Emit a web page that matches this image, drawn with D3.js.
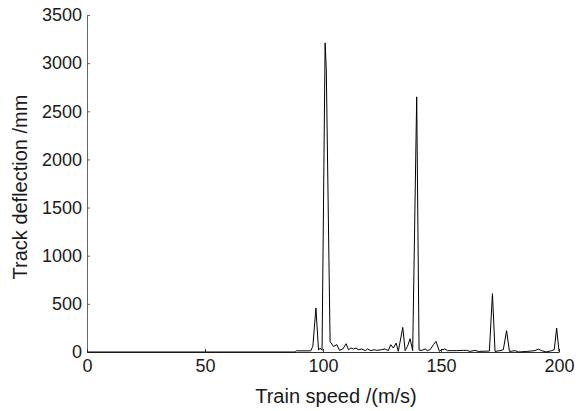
<html>
<head>
<title>Track deflection</title>
<script src="https://cdn.jsdelivr.net/npm/d3@7"></script>
<style>
  body { margin: 0; background: #fff; }
  text { font-family: "Liberation Sans", Arial, sans-serif; fill: #1a1a1a; }
</style>
</head>
<body>
<div id="chart"></div>
<script>
(function(){
  "use strict";

  // vertices of the trace
  var speed = [0, 88.2, 88.7, 94.8, 95.7, 97.0, 98.1, 98.8, 99.6, 100.9, 101.4, 103.0,
    104.4, 105.9, 107.0, 108.4, 109.8, 110.8, 111.8, 112.9, 114.0, 115.0, 116.4, 117.9,
    118.8, 120.3, 121.7, 122.8, 124.9, 126.3, 127.7, 128.7, 129.8, 131.0, 131.9, 133.8,
    134.8, 135.8, 136.9, 138.0, 139.7, 140.7, 141.9, 143.3, 144.2, 145.4, 146.8, 147.9,
    149.3, 150.3, 151.7, 152.7, 154.6, 156.7, 159.5, 160.9, 162.3, 164.4, 165.8, 170.5,
    171.8, 172.9, 175.0, 176.4, 177.8, 179.0, 181.4, 182.8, 186.3, 189.8, 191.2, 192.7,
    194.5, 196.9, 198.0, 199.0, 200.0];
  var deflection = [0, 0, 12, 12, 60, 456, 20, 40, 18, 3210, 2930, 110,
    58, 76, 17, 31, 86, 24, 41, 31, 41, 24, 31, 14,
    31, 14, 24, 17, 24, 31, 14, 76, 41, 93, 7, 255,
    14, 58, 138, 14, 2650, 20, 17, 31, 14, 24, 76, 110,
    7, 24, 31, 14, 14, 14, 17, 17, 6, 17, 6, 10,
    605, 6, 14, 24, 221, 6, 14, 0, 6, 14, 30, 14,
    0, 14, 24, 249, 6];

  var xTicks = [0, 50, 100, 150, 200];
  var yTicks = [0, 500, 1000, 1500, 2000, 2500, 3000, 3500];

  var margin = { top: 15, right: 21, bottom: 59, left: 87 };
  var width = 580 - margin.left - margin.right;
  var height = 411 - margin.top - margin.bottom;

  var svg = d3.select("#chart").append("svg")
    .attr("width", 580)
    .attr("height", 411);

  var g = svg.append("g")
    .attr("transform", "translate(" + margin.left + "," + margin.top + ")");

  var x = d3.scaleLinear().domain([0, 200]).range([0, width]);
  var y = d3.scaleLinear().domain([0, 3500]).range([height, 0]);

  // y axis, ticks pointing inward
  var yAxis = d3.axisLeft(y).tickValues(yTicks).tickFormat(d3.format("d"))
    .tickSizeInner(-3).tickSizeOuter(0);
  var yG = g.append("g").call(yAxis);
  yG.select(".domain").attr("stroke", "#666");
  yG.selectAll(".tick line").attr("stroke", "#666");
  yG.selectAll("text").style("font-size", "18px").attr("x", -5).attr("fill", "#1a1a1a");

  // x axis
  var xAxis = d3.axisBottom(x).tickValues(xTicks).tickFormat(d3.format("d"))
    .tickSizeInner(-3).tickSizeOuter(0);
  var xG = g.append("g").attr("transform", "translate(0," + height + ")").call(xAxis);
  xG.select(".domain").attr("stroke", "#333");
  xG.selectAll(".tick line").attr("stroke", "#333");
  xG.selectAll("text").style("font-size", "18px").attr("y", 7).attr("fill", "#1a1a1a");

  // the trace
  var line = d3.line()
    .x(function(d, i){ return x(speed[i]); })
    .y(function(d){ return y(d); });

  g.append("path")
    .datum(deflection)
    .attr("fill", "none")
    .attr("stroke", "#000")
    .attr("stroke-width", 1)
    .attr("stroke-linejoin", "round")
    .attr("d", line);

  // titles
  svg.append("text")
    .attr("x", 336)
    .attr("y", 403)
    .attr("text-anchor", "middle")
    .style("font-size", "20px")
    .text("Train speed /(m/s)");

  svg.append("text")
    .attr("transform", "translate(27,187) rotate(-90)")
    .attr("text-anchor", "middle")
    .style("font-size", "20px")
    .text("Track deflection /mm");
})();
</script>
</body>
</html>
